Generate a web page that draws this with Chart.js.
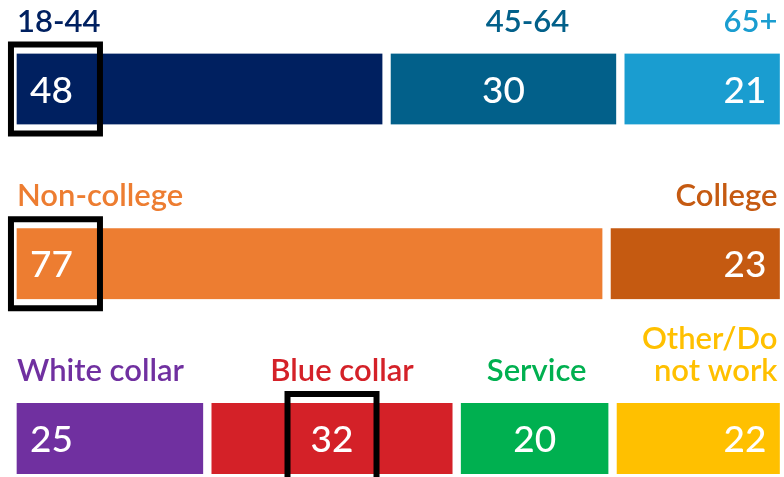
<!DOCTYPE html>
<html>
<head>
<meta charset="utf-8">
<script src="https://cdn.jsdelivr.net/npm/chart.js@4.4.1/dist/chart.umd.min.js"></script>
<style>
    body { margin: 0; background: #fff; }
    #wrap { width: 784px; height: 477px; position: relative; }
</style>
</head>
<body>
<div id="wrap"><canvas id="chart"></canvas></div>
<script>
// one row per breakdown, segments left to right
const rowNames = ['Age', 'Education', 'Occupation'];

const ageLabels = ['18-44', '45-64', '65+'];
const ageValues = [48, 30, 21];
const ageColors = ['#002060', '#02608A', '#1A9DD0'];

const eduLabels = ['Non-college', 'College'];
const eduValues = [77, 23];
const eduColors = ['#ED7D31', '#C55A11'];

const jobLabels = ['White collar', 'Blue collar', 'Service', ['Other/Do', 'not work']];
const jobValues = [25, 32, 20, 22];
const jobColors = ['#7030A0', '#D42128', '#00B050', '#FFC000'];

// segment in each row that gets the black box
const highlighted = [0, 0, 1];

const rows = [
    { labels: ageLabels, values: ageValues, colors: ageColors },
    { labels: eduLabels, values: eduValues, colors: eduColors },
    { labels: jobLabels, values: jobValues, colors: jobColors }
];

const GAP = 9;
const maxSegments = Math.max(...rows.map(r => r.values.length));

// each row is drawn as its share of the row total so all rows span the full width
const datasets = [];
for (let i = 0; i < maxSegments; i++) {
    datasets.push({
        data: rows.map(r => {
            if (r.values[i] == null) return null;
            const total = r.values.reduce((a, b) => a + b, 0);
            return r.values[i] / total * 100;
        }),
        backgroundColor: rows.map(r => r.colors[i] || 'transparent'),
        borderColor: '#ffffff',
        borderWidth: { left: GAP / 2, right: GAP / 2, top: 0, bottom: 0 },
        borderSkipped: false,
        barThickness: 71,
        clip: false
    });
}

const labelPlugin = {
    id: 'segmentLabels',
    afterDatasetsDraw(chart, args, opts) {
        const ctx = chart.ctx;
        ctx.save();
        rows.forEach((row, r) => {
            const n = row.values.length;
            for (let i = 0; i < n; i++) {
                const el = chart.getDatasetMeta(i).data[r];
                const left = Math.min(el.x, el.base) + GAP / 2;
                const right = Math.max(el.x, el.base) - GAP / 2;
                const top = el.y - el.height / 2;
                const align = i === 0 ? 'left' : (i === n - 1 ? 'right' : 'center');

                // value inside the bar
                ctx.font = opts.valueFont;
                ctx.fillStyle = '#ffffff';
                ctx.textAlign = align;
                ctx.textBaseline = 'alphabetic';
                let vx = align === 'left' ? left + 13 : (align === 'right' ? right - 13 : (left + right) / 2);
                const valText = String(row.values[i]);
                ctx.fillText(valText, vx, el.y + 13.5);

                // category name above the bar
                ctx.font = opts.labelFont;
                ctx.fillStyle = row.colors[i];
                const shift = (opts.labelShift[r] && opts.labelShift[r][i]) || 0;
                let lx = align === 'left' ? left : (align === 'right' ? right - 2 : (left + right) / 2 + shift);
                const lines = Array.isArray(row.labels[i]) ? row.labels[i] : [row.labels[i]];
                lines.forEach((line, k) => {
                    ctx.fillText(line, lx, top - 22 - (lines.length - 1 - k) * 32);
                });

                // black highlight box around the value
                if (highlighted[r] === i) {
                    ctx.font = opts.valueFont;
                    const w = ctx.measureText(valText).width;
                    const cx = align === 'left' ? vx + w / 2 + 4 : (align === 'right' ? vx - w / 2 : vx);
                    ctx.strokeStyle = '#000000';
                    ctx.lineWidth = 6;
                    ctx.strokeRect(cx - 44.5, el.y - 44.5, 89, 89);
                }
            }
        });
        ctx.restore();
    }
};

new Chart(document.getElementById('chart'), {
    type: 'bar',
    data: { labels: rowNames, datasets: datasets },
    options: {
        indexAxis: 'y',
        responsive: true,
        maintainAspectRatio: false,
        animation: false,
        layout: { padding: { left: 12.5, right: 0, top: 89, bottom: 38.5 } },
        scales: {
            x: { stacked: true, min: 0, max: 100, display: false },
            y: { stacked: true, offset: false, display: false }
        },
        plugins: {
            legend: { display: false },
            tooltip: { enabled: false },
            segmentLabels: {
                valueFont: '500 37px Lato',
                labelFont: '600 31px Lato',
                labelShift: [[0, 24], [], [0, 10, 2]]
            }
        }
    },
    plugins: [labelPlugin]
});
</script>
</body>
</html>
